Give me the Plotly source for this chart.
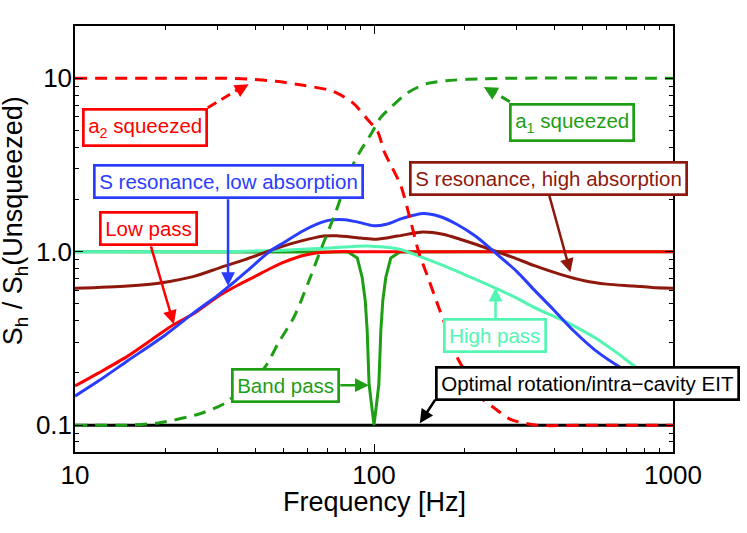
import numpy as np
import plotly.graph_objects as go

# ---------------- data ----------------
# a2 squeezed (red dashed)
f_a2 = [10, 20, 30, 38, 47, 58, 73, 85, 95, 103, 108, 115, 123, 132, 141, 152, 163, 177, 190, 210, 227, 255, 286, 350, 500, 1000]
v_a2 = [10, 10, 10, 9.9, 9.6, 9.1, 8.4, 7.2, 5.8, 4.9, 3.8, 3.05, 2.4, 1.55, 1.0, 0.70, 0.5, 0.34, 0.245, 0.182, 0.145, 0.124, 0.108, 0.1, 0.1, 0.1]

# a1 squeezed (green dashed)
f_a1 = [10, 15, 19, 26, 32, 38, 43, 48, 54, 60, 66, 75, 83, 90, 98, 105, 114, 129, 150, 185, 226, 300, 1000]
v_a1 = [0.1, 0.1, 0.103, 0.116, 0.135, 0.177, 0.214, 0.30, 0.42, 0.65, 1.0, 1.75, 2.9, 3.8, 4.8, 5.9, 6.8, 8.2, 9.3, 9.75, 9.9, 10, 10]

# Low pass (red)
f_lp = [10, 12, 15, 18, 21.4, 25, 30, 35, 40, 45, 50, 58, 65, 75, 90, 120, 200, 1000]
v_lp = [0.168, 0.2, 0.25, 0.31, 0.38, 0.44, 0.55, 0.64, 0.72, 0.8, 0.87, 0.95, 0.985, 1.0, 1.0, 1.0, 1.0, 1.0]

# S resonance, low absorption (blue)
f_la = [10, 12, 15, 20, 25, 30, 32.3, 37.6, 45, 50, 58, 65, 71, 80, 90, 100, 110, 125, 146, 165, 189, 220, 252, 300, 344, 400, 465, 550, 683, 850, 1000]
v_la = [0.147, 0.18, 0.235, 0.33, 0.445, 0.56, 0.62, 0.774, 1.01, 1.13, 1.32, 1.45, 1.52, 1.53, 1.47, 1.41, 1.44, 1.56, 1.66, 1.6, 1.44, 1.22, 1.0, 0.77, 0.6, 0.46, 0.35, 0.27, 0.21, 0.172, 0.15]

# S resonance, high absorption (brown)
f_ha = [10, 15, 19.3, 25, 30.6, 37, 43.9, 50, 56.8, 68, 75, 90, 102, 120, 146, 170, 194, 220, 245, 290, 344, 420, 505, 600, 736, 850, 1000]
v_ha = [0.615, 0.635, 0.66, 0.72, 0.81, 0.9, 1.0, 1.08, 1.15, 1.23, 1.235, 1.2, 1.18, 1.23, 1.30, 1.26, 1.18, 1.1, 1.03, 0.93, 0.83, 0.74, 0.68, 0.65, 0.634, 0.622, 0.615]

# High pass (aquamarine)
f_hp = [10, 30, 50, 70, 95, 110, 122.6, 140, 171, 200, 238, 300, 344, 431, 478, 550, 650, 757, 880, 1000]
v_hp = [1.0, 1.0, 1.02, 1.05, 1.08, 1.06, 1.03, 0.95, 0.83, 0.74, 0.65, 0.54, 0.476, 0.40, 0.365, 0.318, 0.261, 0.214, 0.185, 0.16]

# Band pass (green)
f_bp = [10, 60, 82, 87.9, 91.3, 93.5, 94.9, 96.3, 98.2, 100, 101.8, 103.8, 105.4, 107, 109.5, 113.8, 122, 200, 1000]
v_bp = [1, 1, 0.995, 0.92, 0.71, 0.52, 0.35, 0.172, 0.129, 0.1, 0.129, 0.172, 0.35, 0.52, 0.71, 0.92, 0.995, 1, 1]

# Optimal rotation / intra-cavity EIT (black)
f_eit = [10, 1000]
v_eit = [0.1, 0.1]

x_tickvals = [10, 100, 1000]
x_ticktext = ["10", "100", "1000"]
y_tickvals = [0.1, 1, 10]
y_ticktext = ["0.1", "1.0", "10"]

RED = "#FF0000"
GREEN = "#1E9E14"
BLUE = "#2A3DFF"
BROWN = "#8E180C"
AQUA = "#52F5B2"
BLACK = "#000000"
FONT = "Liberation Sans, Arial, sans-serif"

fig = go.Figure()

def add(x, y, color, dash=None, shape="spline"):
    fig.add_trace(go.Scatter(
        x=x, y=y, mode="lines",
        line=dict(color=color, width=3, dash=dash, shape=shape, smoothing=0.8 if shape == "spline" else None),
        hoverinfo="skip", showlegend=False))

add(f_eit, v_eit, BLACK, shape="linear")
add(f_bp, v_bp, GREEN, shape="linear")
add(f_lp, v_lp, RED)
add(f_hp, v_hp, AQUA)
add(f_ha, v_ha, BROWN)
add(f_la, v_la, BLUE)
add(f_a2, v_a2, RED, dash="12px,8px")
add(f_a1, v_a1, GREEN, dash="12px,8px")

# dashed arrow shafts
add([27.8, 36.0], [6.76, 8.85], RED, dash="10px,6px", shape="linear")
add([284.6, 243.0], [7.32, 8.6], GREEN, dash="10px,6px", shape="linear")

L = np.log10
annotations = []

def arrow(tipf, tipv, ax, ay, color):
    annotations.append(dict(
        x=L(tipf), y=L(tipv), xref="x", yref="y", text="", showarrow=True,
        ax=ax, ay=ay, arrowhead=2, arrowsize=1.1, arrowwidth=2.5,
        arrowcolor=color, standoff=0, startstandoff=0))

def box(cf, cv, text, color):
    annotations.append(dict(
        x=L(cf), y=L(cv), xref="x", yref="y", text=text, showarrow=False,
        xanchor="center", yanchor="middle",
        font=dict(family=FONT, size=20.5, color=color),
        bgcolor="white", bordercolor=color, borderwidth=2.7, borderpad=3.5))

arrow(38.1, 9.22, -10.5, 6.0, RED)
arrow(232.9, 8.9, 10.4, 5.9, GREEN)
arrow(32.5, 0.634, 0, -88.3, BLUE)
arrow(21.4, 0.382, -23.3, -79.3, RED)
arrow(454, 0.76, -21.7, -78.7, BROWN)
arrow(255, 0.62, 0, 32.6, AQUA)
arrow(96.1, 0.17, -30, 0, GREEN)
arrow(142.3, 0.1026, 16.4, -25, BLACK)

box(17.1, 5.19, "a<sub>2</sub> squeezed", RED)
box(460, 5.57, "a<sub>1</sub> squeezed", GREEN)
box(32.7, 2.55, "S resonance, low absorption", BLUE)
box(17.65, 1.364, "Low pass", RED)
box(383, 2.63, "S resonance, high absorption", BROWN)
box(253, 0.327, "High pass", AQUA)
box(50.6, 0.169, "Band pass", GREEN)
box(518, 0.173, "Optimal rotation/intra\u2212cavity EIT", BLACK)

# axis titles
annotations.append(dict(
    x=-0.100, y=0.542, xref="paper", yref="paper", showarrow=False,
    text="S<sub>h</sub> / S<sub>h</sub>(Unsqueezed)", textangle=-90,
    xanchor="center", yanchor="middle",
    font=dict(family=FONT, size=27, color="black")))
annotations.append(dict(
    x=0.5, y=-0.118, xref="paper", yref="paper", showarrow=False,
    text="Frequency [Hz]", xanchor="center", yanchor="middle",
    font=dict(family=FONT, size=27, color="black")))

axis_common = dict(
    type="log", showgrid=False, zeroline=False, automargin=False,
    showline=True, linecolor="black", linewidth=1.5, mirror="allticks",
    ticks="inside", ticklen=8, tickwidth=1.2, tickcolor="black",
    tickfont=dict(family=FONT, size=26, color="black"),
)

fig.update_xaxes(
    **axis_common,
    range=[1, 3], tickmode="array", tickvals=x_tickvals, ticktext=x_ticktext,
    minor=dict(ticks="inside", ticklen=4.5, tickwidth=1, tickcolor="black",
               tickvals=[20, 30, 40, 50, 60, 70, 80, 90, 200, 300, 400, 500, 600, 700, 800, 900]),
    ticklabelstandoff=-1,
)
fig.update_yaxes(
    **axis_common,
    range=[L(0.07), L(20)], tickmode="array", tickvals=y_tickvals, ticktext=y_ticktext,
    minor=dict(ticks="inside", ticklen=4.5, tickwidth=1, tickcolor="black",
               tickvals=[0.08, 0.09, 0.2, 0.3, 0.4, 0.5, 0.6, 0.7, 0.8, 0.9, 2, 3, 4, 5, 6, 7, 8, 9]),
    ticklabelstandoff=-4,
)

fig.update_layout(
    width=747, height=533,
    margin=dict(l=75, r=74, t=26, b=81),
    paper_bgcolor="white", plot_bgcolor="white",
    annotations=annotations,
    font=dict(family=FONT),
)

# remove the default 8px page margin so the figure fills the window
fig.write_html("out.html", config={"displayModeBar": False},
               post_script="document.body.style.margin='0';document.body.style.overflow='hidden';")
